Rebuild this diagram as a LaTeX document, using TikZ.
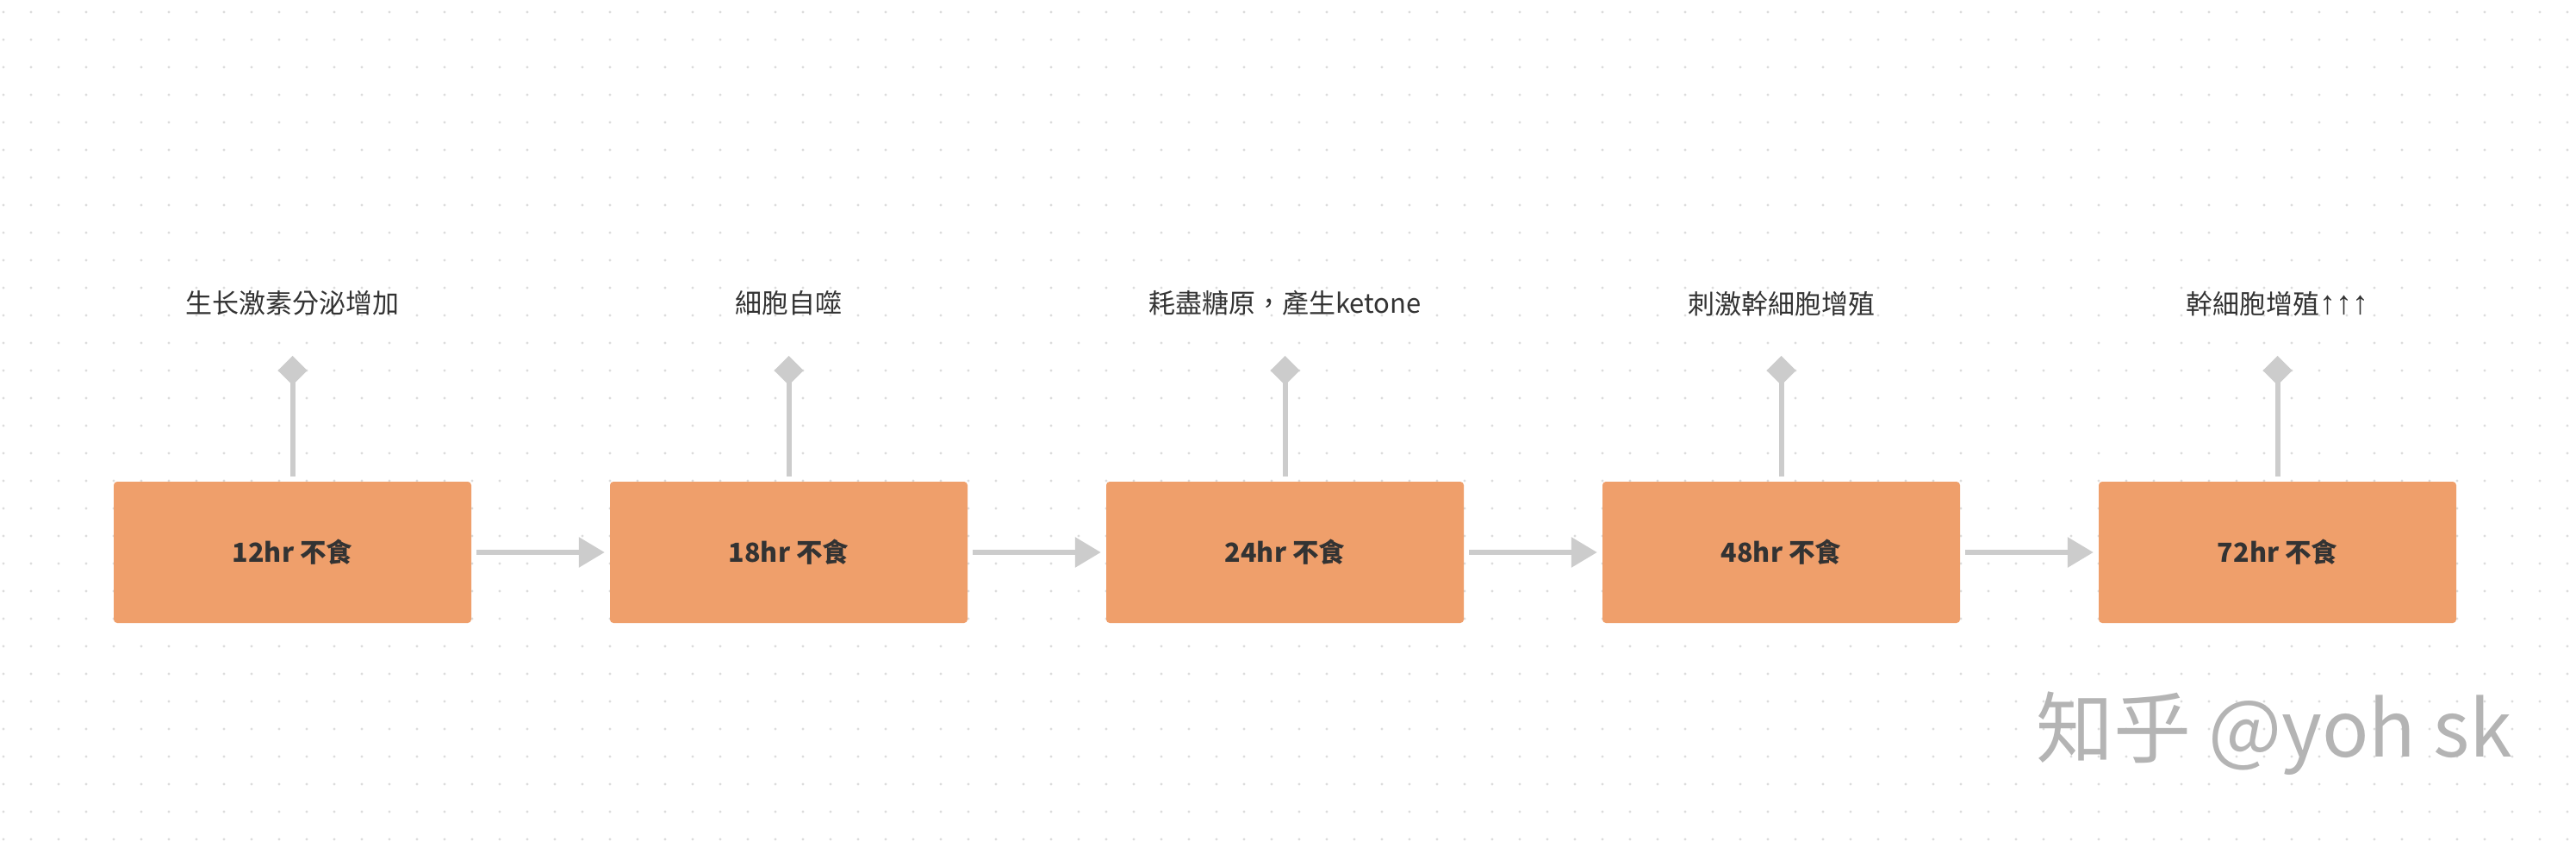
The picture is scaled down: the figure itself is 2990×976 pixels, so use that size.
\documentclass[tikz,border=0pt]{standalone}
\usepackage{fontspec}
\setmainfont{Noto Sans CJK TC}
\newfontfamily\arrfont{Liberation Sans}
\usetikzlibrary{arrows.meta}
\definecolor{boxfill}{HTML}{EF9F6B}
\definecolor{txt}{HTML}{333333}
\definecolor{conn}{HTML}{CCCCCC}
\definecolor{dotc}{HTML}{DCDCDC}
\definecolor{wm}{HTML}{B4B4B4}
\begin{document}
\begin{tikzpicture}[x=1pt,y=-1pt,
 stagebox/.style={fill=boxfill, rounded corners=4pt, minimum width=415pt, minimum height=164pt, inner sep=0pt, font=\fontsize{30.5}{36}\selectfont\bfseries, text=txt},
 effect/.style={font=\fontsize{31}{36}\selectfont, text=txt, inner sep=0pt},
 flow/.style={draw=conn, line width=6pt, -{Triangle[length=30pt,width=34pt]}},
 link/.style={draw=conn, line width=6pt, -{Diamond[length=34pt,width=34pt]}},
]
\fill[white] (0,0) rectangle (2990,976);
\useasboundingbox (0,0) rectangle (2990,976);
\foreach \i in {0,...,93}{
  \foreach \j in {0,...,30}{
    \fill[dotc] ({4+32*\i},{14+32*\j}) circle (1.6pt);
  }
}
\node[stagebox] (s1) at (339.5,641) {12hr 不食};
\node[stagebox] (s2) at (915.5,641) {18hr 不食};
\node[stagebox] (s3) at (1491.5,641) {24hr 不食};
\node[stagebox] (s4) at (2067.5,641) {48hr 不食};
\node[stagebox] (s5) at (2643.5,641) {72hr 不食};
\draw[flow] ([xshift=6pt]s1.east) -- ([xshift=-6pt]s2.west);
\draw[flow] ([xshift=6pt]s2.east) -- ([xshift=-6pt]s3.west);
\draw[flow] ([xshift=6pt]s3.east) -- ([xshift=-6pt]s4.west);
\draw[flow] ([xshift=6pt]s4.east) -- ([xshift=-6pt]s5.west);
\node[effect] (e1) at (339.5,352) {生长激素分泌增加};
\node[effect] (e2) at (915.5,352) {細胞自噬};
\node[effect] (e3) at (1491.5,352) {耗盡糖原，產生ketone};
\node[effect] (e4) at (2067.5,352) {刺激幹細胞增殖};
\node[effect] (e5) at (2643.5,352) {幹細胞增殖{\arrfont\fontsize{38}{40}\selectfont ↑↑↑}};
\foreach \k/\xx in {1/339.5,2/915.5,3/1491.5,4/2067.5,5/2643.5}{
  \coordinate (t\k) at (\xx,413);
  \draw[link] ([yshift=6pt]s\k.north) -- (t\k);
}
\node[font=\fontsize{90}{94}\selectfont, text=wm, anchor=base west, inner sep=0pt] (wmk) at (2363,878) {知乎 @yoh sk};
\end{tikzpicture}
\end{document}
